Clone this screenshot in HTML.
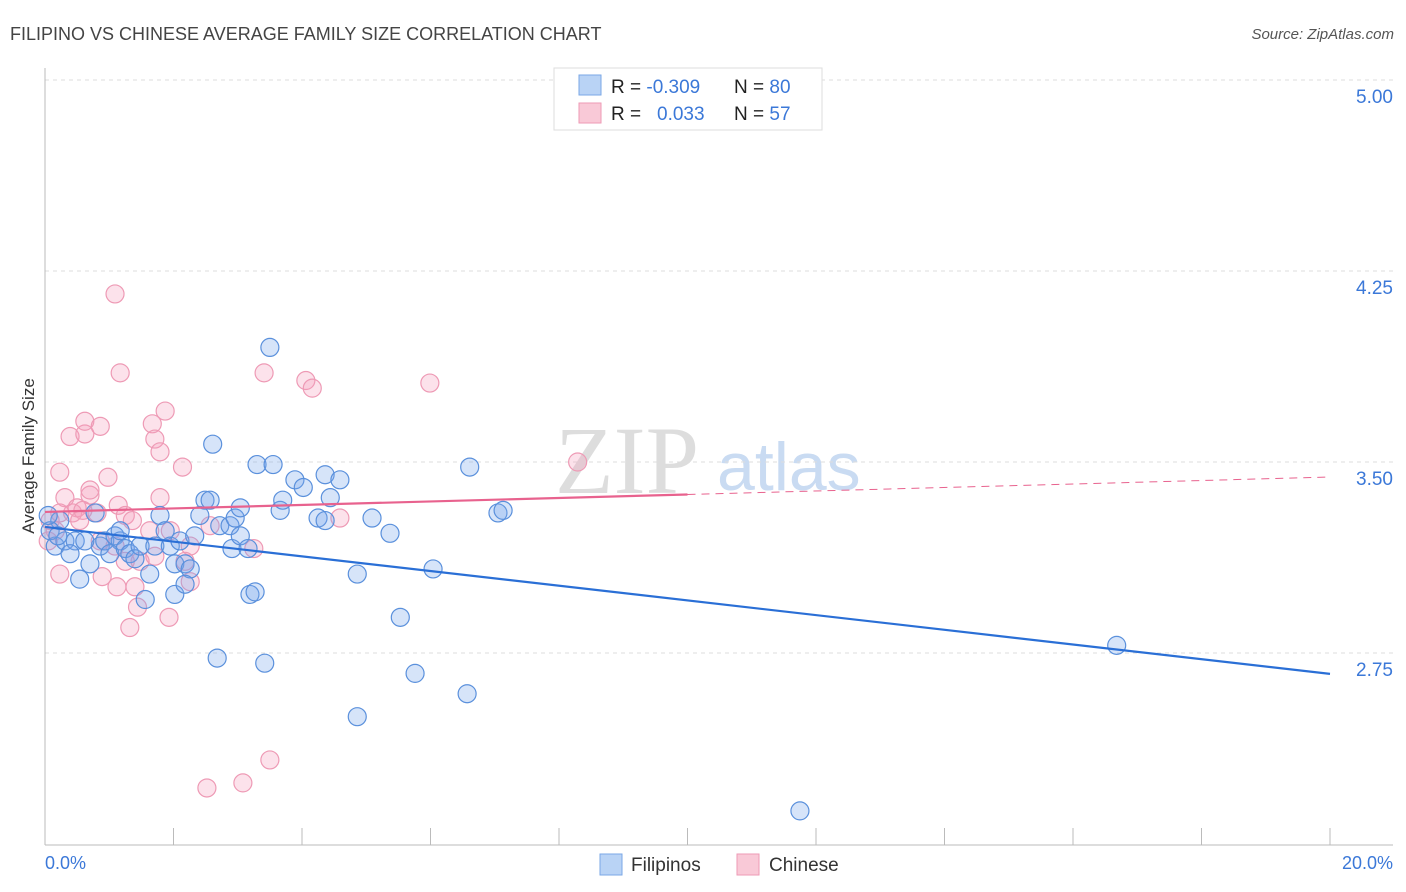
<!DOCTYPE html>
<html><head><meta charset="utf-8"><style>
body{margin:0;background:#fff;font-family:"Liberation Sans",sans-serif;}
svg{display:block}
</style></head><body>
<svg id="c" width="1406" height="892" xmlns="http://www.w3.org/2000/svg">
<text x="10" y="40" font-size="18" fill="#444">FILIPINO VS CHINESE AVERAGE FAMILY SIZE CORRELATION CHART</text>
<text x="1394" y="39" font-size="15" fill="#555" font-style="italic" text-anchor="end">Source: ZipAtlas.com</text>
<text x="555" y="493" font-size="96" fill="#ddd" font-family="Liberation Serif,serif">ZIP</text>
<text x="717" y="490" font-size="68" fill="#c9dbf2">atlas</text>
<text transform="translate(34,456) rotate(-90)" font-size="17" fill="#333" text-anchor="middle">Average Family Size</text>
<g id="grid"></g><g id="marks"></g><g id="lines"></g>
<g>
<rect x="554" y="68" width="268" height="62" fill="#fff" stroke="#ddd"/>
<rect x="579" y="75" width="22" height="20" fill="#b9d3f5" stroke="#7aa7e6"/>
<rect x="579" y="103" width="22" height="20" fill="#f9c9d7" stroke="#ee9ab5"/>
<text x="611" y="93" font-size="19" fill="#222">R = <tspan fill="#3b78d8">-0.309</tspan></text>
<text x="734" y="93" font-size="19" fill="#222">N = <tspan fill="#3b78d8">80</tspan></text>
<text x="611" y="120" font-size="19" fill="#222">R = <tspan fill="#3b78d8" x="657">0.033</tspan></text>
<text x="734" y="120" font-size="19" fill="#222">N = <tspan fill="#3b78d8">57</tspan></text>
</g>
<g><rect x="600" y="854" width="22" height="21" fill="#b9d3f5" stroke="#7aa7e6"/><text x="631" y="871" font-size="19" fill="#333">Filipinos</text></g>
<g><rect x="737" y="854" width="22" height="21" fill="#f9c9d7" stroke="#ee9ab5"/><text x="769" y="871" font-size="19" fill="#333">Chinese</text></g>
</svg>
<script>
const yTicks=[5.00,4.25,3.50,2.75];
const xTickLabels=["0.0%","20.0%"];
const blueX=[0.16,0.23,0.08,0.31,0.47,0.39,0.54,0.70,0.78,0.86,0.93,1.09,1.17,1.01,1.25,1.32,1.40,1.48,1.63,1.56,1.79,1.87,1.71,1.95,2.02,2.10,2.18,2.26,2.02,2.18,2.33,2.41,2.49,2.57,2.61,2.72,2.88,2.96,3.04,2.91,3.04,3.16,3.19,3.27,3.30,3.50,3.55,3.66,3.70,3.89,4.02,4.25,4.36,4.44,4.36,4.59,5.09,4.86,5.37,5.53,5.76,6.04,4.86,3.42,2.68,6.57,6.61,7.05,7.13,16.68,11.75,0.05,0.20,0.62,1.17];
const blueY=[3.17,3.27,3.23,3.19,3.19,3.14,3.04,3.10,3.30,3.17,3.19,3.21,3.19,3.14,3.16,3.14,3.12,3.17,3.06,2.96,3.29,3.23,3.17,3.17,3.10,3.19,3.10,3.08,2.98,3.02,3.21,3.29,3.35,3.35,3.57,3.25,3.25,3.28,3.32,3.16,3.21,3.16,2.98,2.99,3.49,3.95,3.49,3.31,3.35,3.43,3.40,3.28,3.45,3.36,3.27,3.43,3.28,3.06,3.22,2.89,2.67,3.08,2.50,2.71,2.73,2.59,3.48,3.30,3.31,2.78,2.13,3.29,3.21,3.19,3.23];
const pinkX=[1.09,1.17,0.39,0.62,0.62,0.86,0.23,0.98,0.31,0.70,0.70,0.50,0.43,0.59,0.81,1.14,1.25,1.36,1.79,1.87,1.67,1.71,1.79,2.14,1.95,2.26,1.63,1.09,1.25,1.48,1.71,2.18,2.26,1.40,0.89,1.12,1.32,1.44,1.93,0.23,0.08,0.16,0.05,2.57,3.25,3.41,4.06,4.16,5.99,8.29,4.59,3.08,3.50,2.52,0.86,0.23,0.54];
const pinkY=[4.16,3.85,3.60,3.61,3.66,3.64,3.46,3.44,3.36,3.37,3.39,3.32,3.30,3.31,3.30,3.33,3.29,3.27,3.36,3.70,3.65,3.59,3.54,3.48,3.23,3.17,3.23,3.17,3.11,3.11,3.13,3.11,3.03,3.01,3.05,3.01,2.85,2.93,2.89,3.06,3.27,3.23,3.19,3.25,3.16,3.85,3.82,3.79,3.81,3.50,3.28,2.24,2.33,2.22,3.19,3.30,3.27];
const blueTrend=[3.245,2.668];
const pinkTrend=[3.304,3.441];
const X0=45,X1=1330,YTOP=80,YSTEP=191;
const sx=v=>X0+(v/20)*(X1-X0);
const sy=v=>YTOP+(5-v)/0.75*YSTEP;
const NS="http://www.w3.org/2000/svg";
function mk(t,a,p){const e=document.createElementNS(NS,t);for(const k in a)e.setAttribute(k,a[k]);p.appendChild(e);return e;}
const grid=document.getElementById('grid'),marks=document.getElementById('marks'),lines=document.getElementById('lines');
yTicks.forEach(t=>{
 const l=mk('line',{x1:X0,x2:1393,y1:sy(t),y2:sy(t),stroke:'#ddd','stroke-dasharray':'4,4'},grid);
 
 
 const tx=mk('text',{x:1393,y:sy(t)+23,'font-size':19,fill:'#3b78d8','text-anchor':'end'},grid);
 tx.textContent=t.toFixed(2);
 
 
});
const ax=mk('line',{x1:X0,x2:1393,y1:845,y2:845,stroke:'#bbb'},grid);


const ay=mk('line',{x1:X0,x2:X0,y1:68,y2:845,stroke:'#bbb'},grid);


for(let i=1;i<=10;i++){const x=sx(i*2);const tk=mk('line',{x1:x,x2:x,y1:828,y2:845,stroke:'#bbb'},grid);
 
 }
[[0,'start',45],[1,'end',1393]].forEach(([i,a,x])=>{const t=mk('text',{x:x,y:869,'font-size':18,fill:'#3b78d8','text-anchor':a},grid);t.textContent=xTickLabels[i];
 
 });
pinkX.forEach((x,i)=>{const c=mk('circle',{cx:sx(x),cy:sy(pinkY[i]),r:9,fill:'rgba(244,160,188,0.3)',stroke:'#ee9ab5','stroke-width':1.2},marks);
 
 });
blueX.forEach((x,i)=>{const c=mk('circle',{cx:sx(x),cy:sy(blueY[i]),r:9,fill:'rgba(120,165,235,0.3)',stroke:'#5a90dc','stroke-width':1.2},marks);
 
 });
const bl=mk('line',{x1:sx(0),y1:sy(blueTrend[0]),x2:sx(20),y2:sy(blueTrend[1]),stroke:'#2a6fd6','stroke-width':2.2},lines);


const pm=pinkTrend[0]+(pinkTrend[1]-pinkTrend[0])*0.5;
const pl=mk('line',{x1:sx(0),y1:sy(pinkTrend[0]),x2:sx(10),y2:sy(pm),stroke:'#e8628e','stroke-width':2.2},lines);


const pd=mk('line',{x1:sx(10),y1:sy(pm),x2:sx(20),y2:sy(pinkTrend[1]),stroke:'#e8628e','stroke-width':1,'stroke-dasharray':'8,6'},lines);


</script>
</body></html>
